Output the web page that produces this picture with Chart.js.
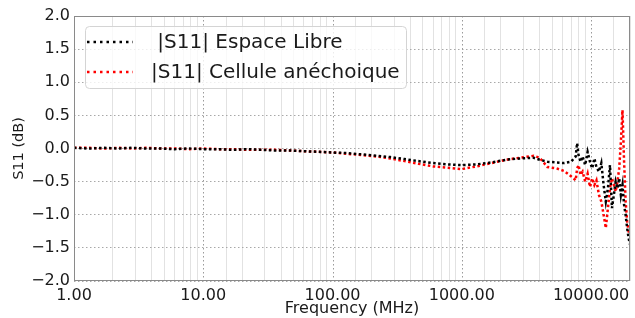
<!DOCTYPE html>
<html lang="fr">
<head>
  <meta charset="UTF-8">
  <title>S11</title>
  <script src="https://cdn.jsdelivr.net/npm/chart.js@4/dist/chart.umd.min.js"></script>
  <style>
    html, body { margin: 0; padding: 0; background: #fff; }
    #wrap { width: 635px; height: 318px; }
  </style>
</head>
<body>
  <div id="wrap"><canvas id="chart" width="635" height="318"></canvas></div>
  <script>
    // values
    const freqMHz = [1, 1.3, 1.7, 2.2, 2.8, 3.6, 4.6, 6, 7.7, 10, 13, 17, 22, 28, 36, 46, 60, 77,
      100, 130, 170, 220, 280, 360, 460, 600, 770, 1000, 1300, 1700, 2200, 2800, 3600, 4000,
      4600, 5400, 6200, 7000, 7600, 7800, 8000, 8300, 8600, 9000, 9400, 9800, 10200, 10600,
      11000, 11500, 12000, 12500, 13000, 13500, 14000, 14500, 15000, 15500, 16000, 16500,
      17000, 17500, 18000, 18500, 19000, 19500, 20000];
    const s11EspaceLibre = [0.01, 0.0, 0.01, 0.0, 0.01, 0.0, 0.0, -0.01, 0.0, -0.01, -0.01, -0.02,
      -0.01, -0.02, -0.03, -0.03, -0.04, -0.05, -0.06, -0.07, -0.09, -0.11, -0.13, -0.16, -0.19,
      -0.22, -0.24, -0.25, -0.24, -0.21, -0.17, -0.15, -0.14, -0.17, -0.2, -0.21, -0.22, -0.2,
      -0.12, 0.08, -0.1, -0.2, -0.12, -0.25, -0.05, -0.2, -0.3, -0.15, -0.28, -0.35, -0.22,
      -0.55, -0.8, -0.6, -0.25, -0.9, -0.7, -0.5, -0.6, -0.45, -0.7, -0.55, -0.85, -1.0, -1.2,
      -1.35, -1.45];
    const s11Cellule = [0.01, 0.01, 0.0, 0.01, 0.0, 0.01, 0.0, 0.0, -0.01, 0.0, -0.01, -0.01,
      -0.02, -0.02, -0.02, -0.03, -0.04, -0.05, -0.06, -0.08, -0.1, -0.12, -0.15, -0.19, -0.23,
      -0.27, -0.29, -0.31, -0.27, -0.22, -0.17, -0.14, -0.11, -0.14, -0.28, -0.3, -0.34, -0.42,
      -0.48, -0.3, -0.25, -0.4, -0.35, -0.5, -0.38, -0.58, -0.45, -0.55, -0.48, -0.7, -0.8,
      -1.0, -1.2, -0.9, -0.6, -0.45, -0.55, -0.65, -0.5, -0.3, 0.1, 0.58, -0.2, -0.8, -1.1,
      -1.25, -1.3];
    const seriesLabels = [' |S11| Espace Libre', '|S11| Cellule anéchoique'];
    const seriesColors = ['#000000', '#ff0000'];
    const yTicks = [-2, -1.5, -1, -0.5, 0, 0.5, 1, 1.5, 2];

    const FONT = "'DejaVu Sans', sans-serif";
    Chart.defaults.font.family = FONT;
    Chart.defaults.color = '#1a1a1a';

    const isDecade = v => Math.abs(Math.log10(v) - Math.round(Math.log10(v))) < 1e-9;

    // dotted major grid on decades + axes frame
    const framePlugin = {
      id: 'frame',
      beforeDatasetsDraw(chart) {
        const { ctx, chartArea: a, scales } = chart;
        ctx.save();
        ctx.strokeStyle = '#9a9a9a';
        ctx.lineWidth = 1;
        ctx.setLineDash([1.5, 2.5]);
        for (let k = 0; k <= 4; k++) {
          const x = Math.round(scales.x.getPixelForValue(Math.pow(10, k))) + 0.5;
          ctx.beginPath();
          ctx.moveTo(x, a.top);
          ctx.lineTo(x, a.bottom);
          ctx.stroke();
        }
        ctx.restore();
      },
      afterDraw(chart) {
        const { ctx, chartArea: a } = chart;
        ctx.save();
        ctx.strokeStyle = '#8a8a8a';
        ctx.lineWidth = 1;
        ctx.strokeRect(a.left + 0.5, a.top + 0.5, a.right - a.left - 1, a.bottom - a.top - 1);
        ctx.restore();
      }
    };

    // legend drawn inside the plot, top left
    const legendPlugin = {
      id: 'innerLegend',
      afterDraw(chart) {
        const { ctx, chartArea: a } = chart;
        const bx = a.left + 11, by = a.top + 10, bw = 321, bh = 62;
        ctx.save();
        ctx.beginPath();
        ctx.roundRect(bx + 0.5, by + 0.5, bw, bh, 4);
        ctx.fillStyle = 'rgba(255,255,255,0.8)';
        ctx.fill();
        ctx.strokeStyle = '#d4d4d4';
        ctx.lineWidth = 1;
        ctx.stroke();
        ctx.font = '20px ' + FONT;
        ctx.textBaseline = 'middle';
        chart.data.datasets.forEach((ds, i) => {
          const y = by + 16 + i * 30;
          ctx.strokeStyle = ds.borderColor;
          ctx.lineWidth = 2.5;
          ctx.setLineDash([2.5, 4]);
          ctx.beginPath();
          ctx.moveTo(bx + 2, y);
          ctx.lineTo(bx + 48, y);
          ctx.stroke();
          ctx.fillStyle = '#1a1a1a';
          ctx.fillText(ds.label, bx + 66, y + 1);
        });
        ctx.restore();
      }
    };

    const datasets = [s11EspaceLibre, s11Cellule].map((vals, i) => ({
      label: seriesLabels[i],
      data: freqMHz.map((f, j) => ({ x: f, y: vals[j] })),
      borderColor: seriesColors[i],
      backgroundColor: seriesColors[i],
      borderWidth: 2.5,
      borderDash: [2.5, 2.5],
      pointRadius: 0,
      tension: 0,
      fill: false
    }));

    new Chart(document.getElementById('chart'), {
      type: 'line',
      data: { datasets },
      plugins: [framePlugin, legendPlugin],
      options: {
        responsive: false,
        animation: false,
        layout: { padding: { top: 16, right: 2, left: 0, bottom: 0 } },
        plugins: { legend: { display: false }, tooltip: { enabled: false } },
        scales: {
          x: {
            type: 'logarithmic',
            min: 1,
            max: 20000,
            afterFit: s => { s.height = 37; },
            grid: {
              drawTicks: false,
              color: c => (c.tick && isDecade(c.tick.value)) ? 'rgba(0,0,0,0)' : '#e2e2e2',
              lineWidth: 1
            },
            border: { display: false },
            ticks: {
              autoSkip: false,
              maxRotation: 0,
              padding: 5,
              font: { size: 16 },
              callback: v => isDecade(v) ? Number(v).toFixed(2) : ''
            },
            title: { display: true, text: 'Frequency (MHz)', font: { size: 16 }, padding: { top: 0, bottom: 0 } }
          },
          y: {
            min: -2,
            max: 2,
            afterFit: s => { s.width = 74; },
            afterBuildTicks: s => { s.ticks = yTicks.map(v => ({ value: v })); },
            grid: { drawTicks: false, color: '#a8a8a8', lineWidth: 1 },
            border: { display: false, dash: [1.5, 2.5] },
            ticks: {
              padding: 4,
              font: { size: 16 },
              callback: v => Number(v).toFixed(1).replace('-', '\u2212')
            },
            title: { display: true, text: 'S11 (dB)', font: { size: 14.5 }, padding: { top: 11, bottom: 0 } }
          }
        }
      }
    });
  </script>
</body>
</html>
